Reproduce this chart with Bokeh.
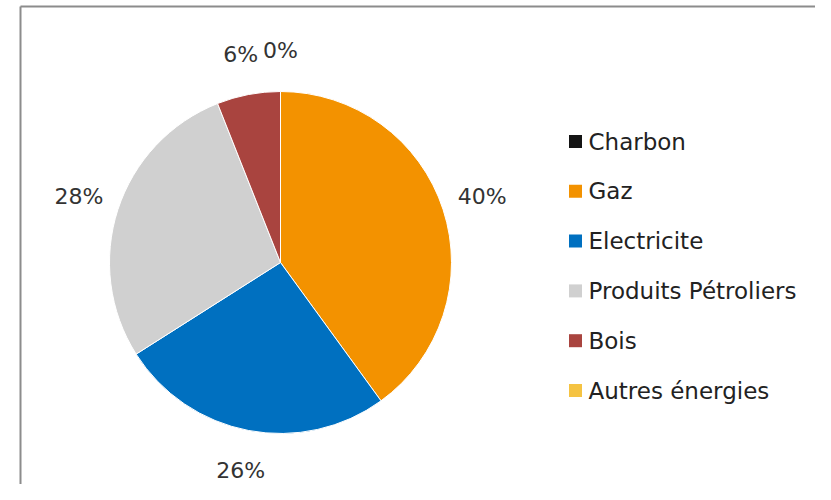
import math
from bokeh.plotting import figure
from bokeh.models import Range1d, ColumnDataSource
from bokeh.core.properties import value
from bokeh.embed import file_html
from bokeh.resources import INLINE

# ---- data ----
categories = ["Charbon", "Gaz", "Electricite", "Produits Pétroliers", "Bois", "Autres énergies"]
shares = [0, 40, 26, 28, 6, 0]
colors = ["#141414", "#F39200", "#0070C0", "#D0D0D0", "#A9443F", "#F5C342"]

# ---- layout (pixel-like data space: x = picture x, y = H - picture y) ----
W, H = 815, 484
p = figure(width=W, height=H, output_backend="svg", toolbar_location=None,
           x_range=Range1d(0, W), y_range=Range1d(0, H),
           x_axis_location=None, y_axis_location=None, min_border=0)
p.grid.visible = False
p.outline_line_color = None
p.background_fill_color = "white"
p.border_fill_color = "white"

cx, cy, r = 280, H - 262, 171
total = float(sum(shares))

starts, ends, mids = [], [], []
cum = 0.0
for v in shares:
    f0 = cum / total
    cum += v
    f1 = cum / total
    # clockwise from 12 o'clock
    starts.append(math.pi / 2 - 2 * math.pi * f1)
    ends.append(math.pi / 2 - 2 * math.pi * f0)
    mids.append(2 * math.pi * (f0 + f1) / 2)

keep = [i for i, v in enumerate(shares) if v > 0]
src = ColumnDataSource(dict(cat=[categories[i] for i in keep],
                            color=[colors[i] for i in keep],
                            start=[starts[i] for i in keep],
                            end=[ends[i] for i in keep]))
p.wedge(x=cx, y=cy, radius=r, start_angle="start", end_angle="end",
        fill_color="color", line_color="white", line_width=1, source=src)

# data labels outside the pie (identical overlapping labels drawn once)
R = 1.24 * r
lx, ly, lt = [], [], []
seen = set()
for v, a in zip(shares, mids):
    x = cx + R * math.sin(a)
    y = cy + R * math.cos(a)
    t = f"{v:.0f}%"
    key = (round(x), round(y), t)
    if key in seen:
        continue
    seen.add(key)
    lx.append(x); ly.append(y); lt.append(t)
p.text(x=lx, y=ly, text=lt, text_align="center", text_baseline="middle",
       text_font=value("DejaVu Sans"), text_font_size="22px", text_color="#333333")

# legend (manual, square swatches)
leg_x, leg_y0, leg_dy = 575, H - 141, 49.8
ly_leg = [leg_y0 - i * leg_dy for i in range(len(categories))]
p.scatter(x=[leg_x] * len(categories), y=ly_leg, marker="square", size=13,
          fill_color=colors, line_color=None)
p.text(x=[leg_x + 13] * len(categories), y=ly_leg, text=categories,
       text_align="left", text_baseline="middle",
       text_font=value("DejaVu Sans"), text_font_size="23px", text_color="#222222")

# chart frame border (left and top visible)
p.segment(x0=[20, 20], y0=[H - 6, H - 6], x1=[W, 20], y1=[H - 6, 0],
          line_color="#8c8c8c", line_width=2)

open("out.html", "w").write(file_html(p, INLINE))
